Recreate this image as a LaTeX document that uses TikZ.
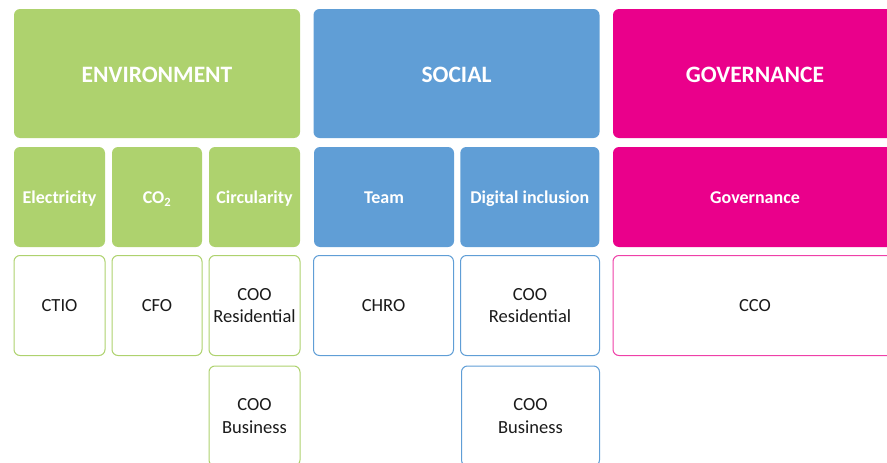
\documentclass[tikz,border=0pt]{standalone}
\usepackage{fontspec}
\setmainfont{Carlito}
\usepackage{tikz}
\usetikzlibrary{positioning}

\definecolor{envgreen}{RGB}{174,210,110}
\definecolor{socblue}{RGB}{96,158,214}
\definecolor{govpink}{RGB}{234,0,139}
\definecolor{txtdark}{RGB}{26,26,26}

\begin{document}
\begin{tikzpicture}[x=1pt,y=-1pt]%
                    \useasboundingbox (0,0) rectangle (887,463);
                    \clip (0,0) rectangle (887,463);
                    \tikzstyle{pillar}=[rounded corners=6pt,inner sep=0pt,text=white,font=\fontsize{23.5}{26}\selectfont\bfseries,text height=18pt,text depth=0pt,minimum height=129pt];%%
                    \tikzstyle{topic}=[rounded corners=6pt,inner sep=0pt,text=white,font=\fontsize{18}{20}\selectfont\bfseries,text height=13.3pt,text depth=0pt,minimum height=100pt];%%
                    \tikzstyle{owner}=[rounded corners=6pt,inner sep=0pt,fill=white,line width=1pt,text=txtdark,align=center,font=\fontsize{18.5}{22.5}\selectfont,minimum height=100pt];%%
                    % environment
                    \begin{scope}
                        \tikzstyle{every node}=[fill=envgreen];%%
                        \node[pillar,minimum width=286pt] (env) at (157,73.5) {ENVIRONMENT}; %%
                        \node[topic,minimum width=91pt] (elec) at (59.5,197) {Electricity}; %%
                        \node[topic,minimum width=90pt] (co2) at (157,197) {CO\textsubscript{2}}; %%
                        \node[topic,minimum width=91pt] (circ) at (254.5,197) {Circularity}; %%
                        \node[owner,draw=envgreen,minimum width=91pt] (ctio) at (59.5,305.5) {CTIO}; %%
                        \node[owner,draw=envgreen,minimum width=90pt] (cfo) at (157,305.5) {CFO}; %%
                        \node[owner,draw=envgreen,minimum width=91pt] (cooresa) at (254.5,305.5) {COO\\Residential}; %%
                        \node[owner,draw=envgreen,minimum width=91pt] (coobusa) at (254.5,416) {COO\\Business}; %%
                    \end{scope}
                    % social
                    \begin{scope}
                        \tikzstyle{every node}=[fill=socblue];%%
                        \node[pillar,minimum width=286pt] (soc) at (456.5,73.5) {SOCIAL}; %%
                        \node[topic,minimum width=140pt] (team) at (384,197) {Team}; %%
                        \node[topic,minimum width=139pt] (dig) at (529.8,197) {Digital inclusion}; %%
                        \node[owner,draw=socblue,minimum width=140pt] (chro) at (383.5,305.5) {CHRO}; %%
                        \node[owner,draw=socblue,minimum width=139pt] (cooresb) at (530,305.5) {COO\\Residential}; %%
                        \node[owner,draw=socblue,minimum width=138pt] (coobusb) at (530.5,416) {COO\\Business}; %%
                    \end{scope}
                    % governance
                    \begin{scope}
                        \tikzstyle{every node}=[fill=govpink];%%
                        \node[pillar,minimum width=284pt] (gov) at (755,73.5) {GOVERNANCE}; %%
                        \node[topic,minimum width=284pt] (govt) at (755,197) {Governance}; %%
                        \node[owner,draw=govpink!75,minimum width=284pt] (cco) at (755,305.5) {CCO}; %%
                    \end{scope}
                    \end{tikzpicture}
\end{document}
